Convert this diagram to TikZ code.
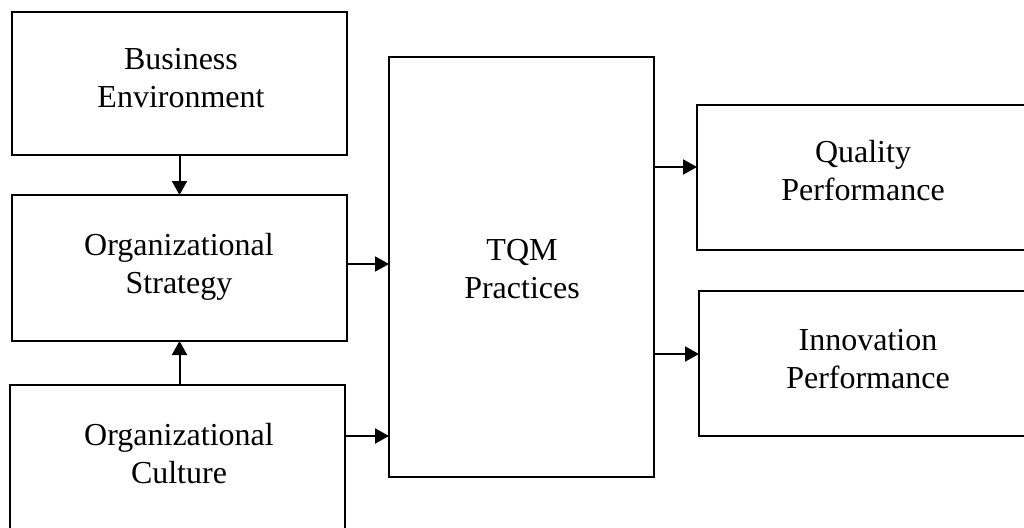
\documentclass[tikz,border=0pt]{standalone}
\usepackage{fontspec}
\setmainfont{Liberation Serif}
\usetikzlibrary{arrows.meta}
\begin{document}
\begin{tikzpicture}[x=1pt,y=-1pt,
  box/.style={draw=black, line width=2pt, rectangle, inner sep=0pt, outer sep=0pt, anchor=north west},
  lbl/.style={anchor=base, align=center, inner sep=0pt, font=\fontsize{32}{38}\selectfont},
  arr/.style={line width=2pt, -{Triangle[length=14pt,width=15pt]}}]
  \useasboundingbox (0,0) rectangle (1024,527);
  \clip (0,0) rectangle (1024,527);
  % frames
  \node[box, minimum width=335pt, minimum height=143pt] (be)  at (12,12)  {};
  \node[box, minimum width=335pt, minimum height=146pt] (os)  at (12,195) {};
  \node[box, minimum width=335pt, minimum height=155pt] (oc)  at (10,385) {};
  \node[box, minimum width=265pt, minimum height=420pt] (tqm) at (389,57) {};
  \node[box, minimum width=343pt, minimum height=145pt] (qp)  at (697,105) {};
  \node[box, minimum width=341pt, minimum height=145pt] (ip)  at (699,291) {};
  % captions (anchored on the baseline of the last line)
  \node[lbl] (tbe)  at (181,107) {Business\\Environment};
  \node[lbl] (tos)  at (179,293) {Organizational\\Strategy};
  \node[lbl] (toc)  at (179,483) {Organizational\\Culture};
  \node[lbl] (ttqm) at (522,298) {TQM\\Practices};
  \node[lbl] (tqp)  at (863,200) {Quality\\Performance};
  \node[lbl] (tip)  at (868,388) {Innovation\\Performance};
  % arrow levels
  \coordinate (y1) at (0,264);
  \coordinate (y2) at (0,436);
  \coordinate (y3) at (0,167);
  \coordinate (y4) at (0,354);
  % connectors
  \draw[arr] (be.south) -- (os.north);
  \draw[arr] (oc.north -| os.north) -- (os.south);
  \draw[arr] (os.east |- y1) -- (tqm.west |- y1);
  \draw[arr] (oc.east |- y2) -- (tqm.west |- y2);
  \draw[arr] (tqm.east |- y3) -- (qp.west |- y3);
  \draw[arr] (tqm.east |- y4) -- (ip.west |- y4);
\end{tikzpicture}
\end{document}
